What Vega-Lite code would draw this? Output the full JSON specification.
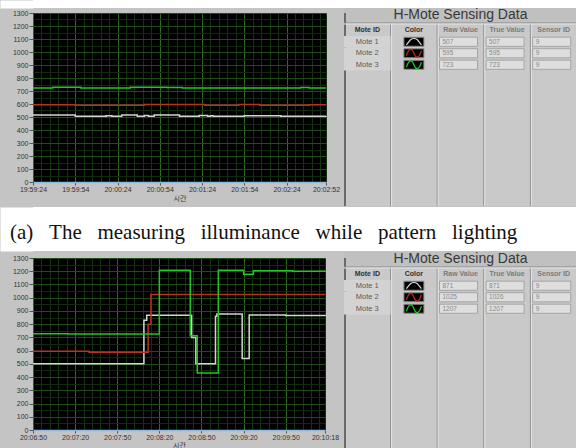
{
  "$schema": "https://vega.github.io/schema/vega-lite/v6.json",
  "background": "#c4c4c4",
  "padding": 0,
  "spacing": 0,
  "config": {"view": {"stroke": null}},
  "datasets": {
    "a": [
      {"t": "2024-01-01T19:59:24", "mote": "Mote 1", "v": 516},
      {"t": "2024-01-01T19:59:54", "mote": "Mote 1", "v": 505},
      {"t": "2024-01-01T20:00:16", "mote": "Mote 1", "v": 510},
      {"t": "2024-01-01T20:00:20", "mote": "Mote 1", "v": 505},
      {"t": "2024-01-01T20:00:27", "mote": "Mote 1", "v": 516},
      {"t": "2024-01-01T20:00:38", "mote": "Mote 1", "v": 505},
      {"t": "2024-01-01T20:00:43", "mote": "Mote 1", "v": 512},
      {"t": "2024-01-01T20:00:46", "mote": "Mote 1", "v": 505},
      {"t": "2024-01-01T20:00:50", "mote": "Mote 1", "v": 516},
      {"t": "2024-01-01T20:01:08", "mote": "Mote 1", "v": 505},
      {"t": "2024-01-01T20:01:22", "mote": "Mote 1", "v": 512},
      {"t": "2024-01-01T20:01:28", "mote": "Mote 1", "v": 505},
      {"t": "2024-01-01T20:01:30", "mote": "Mote 1", "v": 510},
      {"t": "2024-01-01T20:01:32", "mote": "Mote 1", "v": 505},
      {"t": "2024-01-01T20:01:54", "mote": "Mote 1", "v": 509},
      {"t": "2024-01-01T20:02:20", "mote": "Mote 1", "v": 505},
      {"t": "2024-01-01T20:02:52", "mote": "Mote 1", "v": 507},
      {"t": "2024-01-01T19:59:24", "mote": "Mote 2", "v": 595},
      {"t": "2024-01-01T19:59:54", "mote": "Mote 2", "v": 591},
      {"t": "2024-01-01T20:00:43", "mote": "Mote 2", "v": 597},
      {"t": "2024-01-01T20:01:26", "mote": "Mote 2", "v": 591},
      {"t": "2024-01-01T20:01:50", "mote": "Mote 2", "v": 597},
      {"t": "2024-01-01T20:02:05", "mote": "Mote 2", "v": 591},
      {"t": "2024-01-01T20:02:40", "mote": "Mote 2", "v": 595},
      {"t": "2024-01-01T20:02:52", "mote": "Mote 2", "v": 595},
      {"t": "2024-01-01T19:59:24", "mote": "Mote 3", "v": 723},
      {"t": "2024-01-01T19:59:38", "mote": "Mote 3", "v": 729},
      {"t": "2024-01-01T19:59:58", "mote": "Mote 3", "v": 723},
      {"t": "2024-01-01T20:00:33", "mote": "Mote 3", "v": 729},
      {"t": "2024-01-01T20:00:59", "mote": "Mote 3", "v": 726},
      {"t": "2024-01-01T20:01:10", "mote": "Mote 3", "v": 723},
      {"t": "2024-01-01T20:02:34", "mote": "Mote 3", "v": 727},
      {"t": "2024-01-01T20:02:40", "mote": "Mote 3", "v": 723},
      {"t": "2024-01-01T20:02:52", "mote": "Mote 3", "v": 723}
    ],
    "b": [
      {"t": "2024-01-01T20:06:50", "mote": "Mote 1", "v": 500},
      {"t": "2024-01-01T20:08:09", "mote": "Mote 1", "v": 830},
      {"t": "2024-01-01T20:08:11", "mote": "Mote 1", "v": 868},
      {"t": "2024-01-01T20:08:43", "mote": "Mote 1", "v": 700},
      {"t": "2024-01-01T20:08:46", "mote": "Mote 1", "v": 500},
      {"t": "2024-01-01T20:09:00", "mote": "Mote 1", "v": 860},
      {"t": "2024-01-01T20:09:01", "mote": "Mote 1", "v": 876},
      {"t": "2024-01-01T20:09:19", "mote": "Mote 1", "v": 540},
      {"t": "2024-01-01T20:09:24", "mote": "Mote 1", "v": 870},
      {"t": "2024-01-01T20:09:50", "mote": "Mote 1", "v": 866},
      {"t": "2024-01-01T20:10:18", "mote": "Mote 1", "v": 871},
      {"t": "2024-01-01T20:06:50", "mote": "Mote 2", "v": 595},
      {"t": "2024-01-01T20:07:30", "mote": "Mote 2", "v": 588},
      {"t": "2024-01-01T20:08:12", "mote": "Mote 2", "v": 800},
      {"t": "2024-01-01T20:08:14", "mote": "Mote 2", "v": 1025},
      {"t": "2024-01-01T20:10:18", "mote": "Mote 2", "v": 1025},
      {"t": "2024-01-01T20:06:50", "mote": "Mote 3", "v": 728},
      {"t": "2024-01-01T20:07:15", "mote": "Mote 3", "v": 725},
      {"t": "2024-01-01T20:08:20", "mote": "Mote 3", "v": 1207},
      {"t": "2024-01-01T20:08:42", "mote": "Mote 3", "v": 712},
      {"t": "2024-01-01T20:08:47", "mote": "Mote 3", "v": 430},
      {"t": "2024-01-01T20:09:02", "mote": "Mote 3", "v": 1207},
      {"t": "2024-01-01T20:09:20", "mote": "Mote 3", "v": 1177},
      {"t": "2024-01-01T20:09:27", "mote": "Mote 3", "v": 1203},
      {"t": "2024-01-01T20:09:55", "mote": "Mote 3", "v": 1200},
      {"t": "2024-01-01T20:10:18", "mote": "Mote 3", "v": 1207}
    ],
    "tabA": [
      {"row": "Mote 1", "Raw Value": 507, "True Value": 507, "Sensor ID": 9},
      {"row": "Mote 2", "Raw Value": 595, "True Value": 595, "Sensor ID": 9},
      {"row": "Mote 3", "Raw Value": 723, "True Value": 723, "Sensor ID": 9}
    ],
    "tabB": [
      {"row": "Mote 1", "Raw Value": 871, "True Value": 871, "Sensor ID": 9},
      {"row": "Mote 2", "Raw Value": 1025, "True Value": 1026, "Sensor ID": 9},
      {"row": "Mote 3", "Raw Value": 1207, "True Value": 1207, "Sensor ID": 9}
    ],
    "cols": [
      {"col": "Mote ID"}, {"col": "Color"}, {"col": "Raw Value"}, {"col": "True Value"}, {"col": "Sensor ID"}
    ],
    "ttl": [{"title": "H-Mote Sensing Data"}],
    "cap": [{"caption": "(a)\u00a0\u00a0\u00a0The\u00a0\u00a0\u00a0measuring\u00a0\u00a0\u00a0illuminance\u00a0\u00a0\u00a0while\u00a0\u00a0\u00a0pattern\u00a0\u00a0\u00a0lighting"}]
  },
  "vconcat": [
    {
      "width": 543, "height": 8,
      "view": {"fill": "#ffffff", "stroke": null},
      "data": {"values": [{"z": 0}]},
      "mark": {"type": "point", "opacity": 0},
      "encoding": {
        "y": {"field": "z", "type": "quantitative", "axis": {"orient": "left", "offset": 16.5, "domain": true, "domainColor": "#ffffff", "domainWidth": 33, "ticks": false, "labels": false, "grid": false, "title": null}}
      }
    },
    {
      "hconcat": [
        {
          "width": 293, "height": 169,
          "view": {"fill": "#000000", "stroke": null},
          "data": {"name": "a"},
          "mark": {"type": "line", "interpolate": "step-after", "strokeWidth": 1.5},
          "encoding": {
            "x": {
              "field": "t", "type": "temporal",
              "scale": {"domain": [{"year": 2024, "month": 1, "date": 1, "hours": 19, "minutes": 59, "seconds": 24}, {"year": 2024, "month": 1, "date": 1, "hours": 20, "minutes": 2, "seconds": 52}], "nice": false},
              "axis": {
                "values": [
                  {"year": 2024, "month": 1, "date": 1, "hours": 19, "minutes": 59, "seconds": 24},
                  {"year": 2024, "month": 1, "date": 1, "hours": 19, "minutes": 59, "seconds": 30},
                  {"year": 2024, "month": 1, "date": 1, "hours": 19, "minutes": 59, "seconds": 36},
                  {"year": 2024, "month": 1, "date": 1, "hours": 19, "minutes": 59, "seconds": 42},
                  {"year": 2024, "month": 1, "date": 1, "hours": 19, "minutes": 59, "seconds": 48},
                  {"year": 2024, "month": 1, "date": 1, "hours": 19, "minutes": 59, "seconds": 54},
                  {"year": 2024, "month": 1, "date": 1, "hours": 20, "minutes": 0, "seconds": 0},
                  {"year": 2024, "month": 1, "date": 1, "hours": 20, "minutes": 0, "seconds": 6},
                  {"year": 2024, "month": 1, "date": 1, "hours": 20, "minutes": 0, "seconds": 12},
                  {"year": 2024, "month": 1, "date": 1, "hours": 20, "minutes": 0, "seconds": 18},
                  {"year": 2024, "month": 1, "date": 1, "hours": 20, "minutes": 0, "seconds": 24},
                  {"year": 2024, "month": 1, "date": 1, "hours": 20, "minutes": 0, "seconds": 30},
                  {"year": 2024, "month": 1, "date": 1, "hours": 20, "minutes": 0, "seconds": 36},
                  {"year": 2024, "month": 1, "date": 1, "hours": 20, "minutes": 0, "seconds": 42},
                  {"year": 2024, "month": 1, "date": 1, "hours": 20, "minutes": 0, "seconds": 48},
                  {"year": 2024, "month": 1, "date": 1, "hours": 20, "minutes": 0, "seconds": 54},
                  {"year": 2024, "month": 1, "date": 1, "hours": 20, "minutes": 1, "seconds": 0},
                  {"year": 2024, "month": 1, "date": 1, "hours": 20, "minutes": 1, "seconds": 6},
                  {"year": 2024, "month": 1, "date": 1, "hours": 20, "minutes": 1, "seconds": 12},
                  {"year": 2024, "month": 1, "date": 1, "hours": 20, "minutes": 1, "seconds": 18},
                  {"year": 2024, "month": 1, "date": 1, "hours": 20, "minutes": 1, "seconds": 24},
                  {"year": 2024, "month": 1, "date": 1, "hours": 20, "minutes": 1, "seconds": 30},
                  {"year": 2024, "month": 1, "date": 1, "hours": 20, "minutes": 1, "seconds": 36},
                  {"year": 2024, "month": 1, "date": 1, "hours": 20, "minutes": 1, "seconds": 42},
                  {"year": 2024, "month": 1, "date": 1, "hours": 20, "minutes": 1, "seconds": 48},
                  {"year": 2024, "month": 1, "date": 1, "hours": 20, "minutes": 1, "seconds": 54},
                  {"year": 2024, "month": 1, "date": 1, "hours": 20, "minutes": 2, "seconds": 0},
                  {"year": 2024, "month": 1, "date": 1, "hours": 20, "minutes": 2, "seconds": 6},
                  {"year": 2024, "month": 1, "date": 1, "hours": 20, "minutes": 2, "seconds": 12},
                  {"year": 2024, "month": 1, "date": 1, "hours": 20, "minutes": 2, "seconds": 18},
                  {"year": 2024, "month": 1, "date": 1, "hours": 20, "minutes": 2, "seconds": 24},
                  {"year": 2024, "month": 1, "date": 1, "hours": 20, "minutes": 2, "seconds": 30},
                  {"year": 2024, "month": 1, "date": 1, "hours": 20, "minutes": 2, "seconds": 36},
                  {"year": 2024, "month": 1, "date": 1, "hours": 20, "minutes": 2, "seconds": 42},
                  {"year": 2024, "month": 1, "date": 1, "hours": 20, "minutes": 2, "seconds": 48},
                  {"year": 2024, "month": 1, "date": 1, "hours": 20, "minutes": 2, "seconds": 52}
                ],
                "labelExpr": "indexof(['24','54','52'], timeFormat(datum.value, '%S')) >= 0 ? timeFormat(datum.value, '%H:%M:%S') : ''",
                "labelOverlap": false, "labelFlush": false,
                "grid": true,
                "gridColor": {"condition": {"test": "indexof(['24','54'], timeFormat(datum.value, '%S')) >= 0", "value": "#2c6a1e"}, "value": "#143410"},
                "tickColor": {"condition": {"test": "indexof(['24','54','52'], timeFormat(datum.value, '%S')) >= 0", "value": "#555555"}, "value": "transparent"},
                "tickSize": 3, "labelPadding": 0,
                "labelFont": "Liberation Sans", "labelFontSize": 7, "labelColor": "#333333",
                "domain": true, "domainColor": "#8cb8e0", "domainWidth": 1.5,
                "title": "시간", "titleFont": "Noto Sans CJK KR", "titleFontSize": 7, "titleFontWeight": "normal", "titleColor": "#333333", "titlePadding": 2
              }
            },
            "y": {
              "field": "v", "type": "quantitative",
              "scale": {"domain": [0, 1300], "nice": false},
              "axis": {
                "values": [0, 50, 100, 150, 200, 250, 300, 350, 400, 450, 500, 550, 600, 650, 700, 750, 800, 850, 900, 950, 1000, 1050, 1100, 1150, 1200, 1250, 1300],
                "labelExpr": "datum.value % 100 == 0 ? format(datum.value, 'd') : ''",
                "labelOverlap": false, "labelFlush": false,
                "grid": true,
                "gridColor": {"condition": {"test": "datum.value % 100 == 0", "value": "#1f4c17"}, "value": "#11290d"},
                "tickColor": {"condition": {"test": "datum.value % 100 == 0", "value": "#555555"}, "value": "transparent"},
                "tickSize": 4, "labelPadding": 1, "domain": false,
                "labelFont": "Liberation Sans", "labelFontSize": 7, "labelColor": "#333333",
                "title": "\u00a0", "titleX": -33, "titleY": -5, "titleAngle": 0, "titleAlign": "left", "titleBaseline": "top", "titleFontSize": 7
              }
            },
            "color": {"field": "mote", "type": "nominal", "scale": {"domain": ["Mote 1", "Mote 2", "Mote 3"], "range": ["#d4d4d4", "#b83222", "#22c622"]}, "legend": null}
          }
        },
        {
          "width": 233, "height": 193,
          "view": {"fill": "#c9c9c9", "stroke": null},
          "layer": [
            {"data": {"name": "cols"}, "transform": [{"filter": "datum.col != 'Mote ID'"}], "mark": {"type": "rule", "color": "#8c8c8c", "strokeWidth": 1}, "encoding": {"x": {"field": "col", "type": "nominal", "bandPosition": 0, "scale": {"domain": ["Mote ID", "Color", "Raw Value", "True Value", "Sensor ID"], "paddingInner": 0, "paddingOuter": 0}, "axis": null}}},
            {"data": {"name": "cols"}, "transform": [{"filter": "datum.col != 'Mote ID'"}], "mark": {"type": "rule", "color": "#e4e4e4", "strokeWidth": 1, "xOffset": 1}, "encoding": {"x": {"field": "col", "type": "nominal", "bandPosition": 0, "axis": null}}},
            {"data": {"name": "ttl"}, "mark": {"type": "rect", "fill": "#c0c0c0", "yOffset": -5}, "encoding": {"y": {"datum": "title", "type": "nominal", "scale": {"domain": ["title", "header", "Mote 1", "Mote 2", "Mote 3", "f1", "f2", "f3", "f4", "f5", "f6", "f7", "f8", "f9", "f10", "f11"], "paddingInner": 0, "paddingOuter": 0.39, "align": 0}, "axis": null}}},
            {"data": {"name": "ttl"}, "mark": {"type": "rect", "fill": "#c0c0c0", "yOffset": -1.5}, "encoding": {"y": {"datum": "title", "type": "nominal", "axis": null}}},
            {"data": {"name": "cols"}, "transform": [{"filter": "datum.col == 'Mote ID'"}], "mark": {"type": "rule", "color": "#6a6a6a", "strokeWidth": 2, "xOffset": 1}, "encoding": {"x": {"field": "col", "type": "nominal", "bandPosition": 0, "axis": null}}},
            {"data": {"name": "ttl"}, "mark": {"type": "rule", "color": "#8a8a8a", "yOffset": -1.5}, "encoding": {"y": {"datum": "header", "type": "nominal", "bandPosition": 0, "axis": null}}},
            {"data": {"name": "ttl"}, "mark": {"type": "rule", "color": "#e6e6e6", "yOffset": -0.5}, "encoding": {"y": {"datum": "header", "type": "nominal", "bandPosition": 0, "axis": null}}},
            {"data": {"name": "ttl"}, "mark": {"type": "text", "font": "Liberation Sans", "fontSize": 14, "color": "#383838", "yOffset": -3.75}, "encoding": {"y": {"datum": "title", "type": "nominal", "axis": null}, "text": {"field": "title"}}},
            {"data": {"name": "cols"}, "mark": {"type": "text", "font": "Liberation Sans", "fontSize": 7, "fontWeight": "bold"}, "encoding": {"x": {"field": "col", "type": "nominal", "axis": null}, "y": {"datum": "header", "type": "nominal", "axis": null}, "text": {"field": "col"}, "color": {"condition": {"test": "datum.col == 'Mote ID' || datum.col == 'Color'", "value": "#303030"}, "value": "#7a7a7a"}}},
            {"data": {"name": "tabA"}, "mark": {"type": "rect", "fill": "#d3d3d3"}, "encoding": {"x": {"datum": "Mote ID", "type": "nominal", "axis": null}, "y": {"field": "row", "type": "nominal", "axis": null}}},
            {"data": {"name": "tabA"}, "mark": {"type": "text", "font": "Liberation Sans", "fontSize": 7.5, "color": "#5a5a5a"}, "encoding": {"x": {"datum": "Mote ID", "type": "nominal", "axis": null}, "y": {"field": "row", "type": "nominal", "axis": null}, "text": {"field": "row"}}},
            {"data": {"name": "tabA"}, "mark": {"type": "point", "shape": "M-1,-0.45H1V0.45H-1Z", "size": 400, "filled": true, "fill": "#000000", "stroke": "#8a8a8a", "strokeWidth": 1, "opacity": 1}, "encoding": {"x": {"datum": "Color", "type": "nominal", "axis": null}, "y": {"field": "row", "type": "nominal", "axis": null}}},
            {"data": {"name": "tabA"}, "mark": {"type": "point", "size": 400, "filled": false, "strokeWidth": 1.2, "opacity": 1}, "encoding": {"x": {"datum": "Color", "type": "nominal", "axis": null}, "y": {"field": "row", "type": "nominal", "axis": null}, "shape": {"field": "row", "type": "nominal", "scale": {"domain": ["Mote 1", "Mote 2", "Mote 3"], "range": ["M-0.75,0.3L-0.35,-0.2Q0,-0.45 0.35,-0.2L0.75,0.3", "M-0.75,0.25C-0.5,-0.55 -0.2,-0.55 0,0S0.5,0.55 0.75,-0.25", "M-0.75,0.25C-0.5,-0.55 -0.2,-0.55 0,0S0.5,0.55 0.75,-0.25"]}, "legend": null}, "stroke": {"field": "row", "type": "nominal", "scale": {"domain": ["Mote 1", "Mote 2", "Mote 3"], "range": ["#d8d8d8", "#c02a1e", "#22cc22"]}, "legend": null}}},
            {"data": {"name": "tabA"}, "transform": [{"fold": ["Raw Value", "True Value", "Sensor ID"], "as": ["col", "val"]}], "mark": {"type": "point", "shape": "M-1,-0.24H1V0.24H-1Z", "size": 1444, "filled": true, "fill": "#dedede", "stroke": "#9a9a9a", "strokeWidth": 0.8, "opacity": 1, "xOffset": -2}, "encoding": {"x": {"field": "col", "type": "nominal", "axis": null}, "y": {"field": "row", "type": "nominal", "axis": null}}},
            {"data": {"name": "tabA"}, "transform": [{"fold": ["Raw Value", "True Value", "Sensor ID"], "as": ["col", "val"]}], "mark": {"type": "text", "font": "Liberation Sans", "fontSize": 6.5, "color": "#8a8a8a", "align": "left", "xOffset": -2, "dx": -16}, "encoding": {"x": {"field": "col", "type": "nominal", "axis": null}, "y": {"field": "row", "type": "nominal", "axis": null}, "text": {"field": "val", "type": "nominal"}}}
          ]
        }
      ],
      "spacing": 3
    },
    {
      "width": 543, "height": 44,
      "view": {"fill": "#ffffff", "stroke": null},
      "layer": [
        {
          "data": {"name": "cap"},
          "mark": {"type": "text", "font": "Liberation Serif", "fontSize": 21, "color": "#111111", "align": "left", "baseline": "alphabetic", "dx": -294.5, "dy": 10},
          "encoding": {"text": {"field": "caption"}}
        },
        {
          "data": {"values": [{"z": 0}]},
          "mark": {"type": "point", "opacity": 0},
          "encoding": {
            "y": {"field": "z", "type": "quantitative", "axis": {"orient": "left", "offset": 16.5, "domain": true, "domainColor": "#ffffff", "domainWidth": 33, "ticks": false, "labels": false, "grid": false, "title": null}}
          }
        }
      ]
    },
    {
      "hconcat": [
        {
          "width": 292, "height": 172,
          "view": {"fill": "#000000", "stroke": null},
          "data": {"name": "b"},
          "mark": {"type": "line", "interpolate": "step-after", "strokeWidth": 1.5},
          "encoding": {
            "x": {
              "field": "t", "type": "temporal",
              "scale": {"domain": [{"year": 2024, "month": 1, "date": 1, "hours": 20, "minutes": 6, "seconds": 50}, {"year": 2024, "month": 1, "date": 1, "hours": 20, "minutes": 10, "seconds": 18}], "nice": false},
              "axis": {
                "values": [
                  {"year": 2024, "month": 1, "date": 1, "hours": 20, "minutes": 6, "seconds": 50},
                  {"year": 2024, "month": 1, "date": 1, "hours": 20, "minutes": 6, "seconds": 56},
                  {"year": 2024, "month": 1, "date": 1, "hours": 20, "minutes": 7, "seconds": 2},
                  {"year": 2024, "month": 1, "date": 1, "hours": 20, "minutes": 7, "seconds": 8},
                  {"year": 2024, "month": 1, "date": 1, "hours": 20, "minutes": 7, "seconds": 14},
                  {"year": 2024, "month": 1, "date": 1, "hours": 20, "minutes": 7, "seconds": 20},
                  {"year": 2024, "month": 1, "date": 1, "hours": 20, "minutes": 7, "seconds": 26},
                  {"year": 2024, "month": 1, "date": 1, "hours": 20, "minutes": 7, "seconds": 32},
                  {"year": 2024, "month": 1, "date": 1, "hours": 20, "minutes": 7, "seconds": 38},
                  {"year": 2024, "month": 1, "date": 1, "hours": 20, "minutes": 7, "seconds": 44},
                  {"year": 2024, "month": 1, "date": 1, "hours": 20, "minutes": 7, "seconds": 50},
                  {"year": 2024, "month": 1, "date": 1, "hours": 20, "minutes": 7, "seconds": 56},
                  {"year": 2024, "month": 1, "date": 1, "hours": 20, "minutes": 8, "seconds": 2},
                  {"year": 2024, "month": 1, "date": 1, "hours": 20, "minutes": 8, "seconds": 8},
                  {"year": 2024, "month": 1, "date": 1, "hours": 20, "minutes": 8, "seconds": 14},
                  {"year": 2024, "month": 1, "date": 1, "hours": 20, "minutes": 8, "seconds": 20},
                  {"year": 2024, "month": 1, "date": 1, "hours": 20, "minutes": 8, "seconds": 26},
                  {"year": 2024, "month": 1, "date": 1, "hours": 20, "minutes": 8, "seconds": 32},
                  {"year": 2024, "month": 1, "date": 1, "hours": 20, "minutes": 8, "seconds": 38},
                  {"year": 2024, "month": 1, "date": 1, "hours": 20, "minutes": 8, "seconds": 44},
                  {"year": 2024, "month": 1, "date": 1, "hours": 20, "minutes": 8, "seconds": 50},
                  {"year": 2024, "month": 1, "date": 1, "hours": 20, "minutes": 8, "seconds": 56},
                  {"year": 2024, "month": 1, "date": 1, "hours": 20, "minutes": 9, "seconds": 2},
                  {"year": 2024, "month": 1, "date": 1, "hours": 20, "minutes": 9, "seconds": 8},
                  {"year": 2024, "month": 1, "date": 1, "hours": 20, "minutes": 9, "seconds": 14},
                  {"year": 2024, "month": 1, "date": 1, "hours": 20, "minutes": 9, "seconds": 20},
                  {"year": 2024, "month": 1, "date": 1, "hours": 20, "minutes": 9, "seconds": 26},
                  {"year": 2024, "month": 1, "date": 1, "hours": 20, "minutes": 9, "seconds": 32},
                  {"year": 2024, "month": 1, "date": 1, "hours": 20, "minutes": 9, "seconds": 38},
                  {"year": 2024, "month": 1, "date": 1, "hours": 20, "minutes": 9, "seconds": 44},
                  {"year": 2024, "month": 1, "date": 1, "hours": 20, "minutes": 9, "seconds": 50},
                  {"year": 2024, "month": 1, "date": 1, "hours": 20, "minutes": 9, "seconds": 56},
                  {"year": 2024, "month": 1, "date": 1, "hours": 20, "minutes": 10, "seconds": 2},
                  {"year": 2024, "month": 1, "date": 1, "hours": 20, "minutes": 10, "seconds": 8},
                  {"year": 2024, "month": 1, "date": 1, "hours": 20, "minutes": 10, "seconds": 14},
                  {"year": 2024, "month": 1, "date": 1, "hours": 20, "minutes": 10, "seconds": 18}
                ],
                "labelExpr": "indexof(['50','20','18'], timeFormat(datum.value, '%S')) >= 0 ? timeFormat(datum.value, '%H:%M:%S') : ''",
                "labelOverlap": false, "labelFlush": false,
                "grid": true,
                "gridColor": {"condition": {"test": "indexof(['50','20'], timeFormat(datum.value, '%S')) >= 0", "value": "#2c6a1e"}, "value": "#143410"},
                "tickColor": {"condition": {"test": "indexof(['50','20','18'], timeFormat(datum.value, '%S')) >= 0", "value": "#555555"}, "value": "transparent"},
                "tickSize": 3, "labelPadding": 0,
                "labelFont": "Liberation Sans", "labelFontSize": 7, "labelColor": "#333333",
                "domain": true, "domainColor": "#8cb8e0", "domainWidth": 1.5,
                "title": "시간", "titleFont": "Noto Sans CJK KR", "titleFontSize": 7, "titleFontWeight": "normal", "titleColor": "#333333", "titlePadding": 1
              }
            },
            "y": {
              "field": "v", "type": "quantitative",
              "scale": {"domain": [0, 1300], "nice": false},
              "axis": {
                "values": [0, 50, 100, 150, 200, 250, 300, 350, 400, 450, 500, 550, 600, 650, 700, 750, 800, 850, 900, 950, 1000, 1050, 1100, 1150, 1200, 1250, 1300],
                "labelExpr": "datum.value % 100 == 0 ? format(datum.value, 'd') : ''",
                "labelOverlap": false, "labelFlush": false,
                "grid": true,
                "gridColor": {"condition": {"test": "datum.value % 100 == 0", "value": "#1f4c17"}, "value": "#11290d"},
                "tickColor": {"condition": {"test": "datum.value % 100 == 0", "value": "#555555"}, "value": "transparent"},
                "tickSize": 4, "labelPadding": 1, "domain": false,
                "labelFont": "Liberation Sans", "labelFontSize": 7, "labelColor": "#333333",
                "title": "\u00a0", "titleX": -33, "titleY": -6, "titleAngle": 0, "titleAlign": "left", "titleBaseline": "top", "titleFontSize": 7
              }
            },
            "color": {"field": "mote", "type": "nominal", "scale": {"domain": ["Mote 1", "Mote 2", "Mote 3"], "range": ["#d4d4d4", "#b83222", "#22c622"]}, "legend": null}
          }
        },
        {
          "width": 233, "height": 192,
          "view": {"fill": "#c9c9c9", "stroke": null},
          "layer": [
            {"data": {"name": "cols"}, "transform": [{"filter": "datum.col != 'Mote ID'"}], "mark": {"type": "rule", "color": "#8c8c8c", "strokeWidth": 1}, "encoding": {"x": {"field": "col", "type": "nominal", "bandPosition": 0, "scale": {"domain": ["Mote ID", "Color", "Raw Value", "True Value", "Sensor ID"], "paddingInner": 0, "paddingOuter": 0}, "axis": null}}},
            {"data": {"name": "cols"}, "transform": [{"filter": "datum.col != 'Mote ID'"}], "mark": {"type": "rule", "color": "#e4e4e4", "strokeWidth": 1, "xOffset": 1}, "encoding": {"x": {"field": "col", "type": "nominal", "bandPosition": 0, "axis": null}}},
            {"data": {"name": "ttl"}, "mark": {"type": "rect", "fill": "#c0c0c0", "yOffset": -6}, "encoding": {"y": {"datum": "title", "type": "nominal", "scale": {"domain": ["title", "header", "Mote 1", "Mote 2", "Mote 3", "f1", "f2", "f3", "f4", "f5", "f6", "f7", "f8", "f9", "f10", "f11"], "paddingInner": 0, "paddingOuter": 0.35, "align": 0}, "axis": null}}},
            {"data": {"name": "ttl"}, "mark": {"type": "rect", "fill": "#c0c0c0", "yOffset": -2.5}, "encoding": {"y": {"datum": "title", "type": "nominal", "axis": null}}},
            {"data": {"name": "cols"}, "transform": [{"filter": "datum.col == 'Mote ID'"}], "mark": {"type": "rule", "color": "#6a6a6a", "strokeWidth": 2, "xOffset": 1}, "encoding": {"x": {"field": "col", "type": "nominal", "bandPosition": 0, "axis": null}}},
            {"data": {"name": "ttl"}, "mark": {"type": "rule", "color": "#8a8a8a", "yOffset": -2.5}, "encoding": {"y": {"datum": "header", "type": "nominal", "bandPosition": 0, "axis": null}}},
            {"data": {"name": "ttl"}, "mark": {"type": "rule", "color": "#e6e6e6", "yOffset": -1.5}, "encoding": {"y": {"datum": "header", "type": "nominal", "bandPosition": 0, "axis": null}}},
            {"data": {"name": "ttl"}, "mark": {"type": "text", "font": "Liberation Sans", "fontSize": 14, "color": "#383838", "yOffset": -4.75}, "encoding": {"y": {"datum": "title", "type": "nominal", "axis": null}, "text": {"field": "title"}}},
            {"data": {"name": "cols"}, "mark": {"type": "text", "font": "Liberation Sans", "fontSize": 7, "fontWeight": "bold", "yOffset": -1}, "encoding": {"x": {"field": "col", "type": "nominal", "axis": null}, "y": {"datum": "header", "type": "nominal", "axis": null}, "text": {"field": "col"}, "color": {"condition": {"test": "datum.col == 'Mote ID' || datum.col == 'Color'", "value": "#303030"}, "value": "#7a7a7a"}}},
            {"data": {"name": "tabB"}, "mark": {"type": "rect", "fill": "#d3d3d3", "yOffset": -1}, "encoding": {"x": {"datum": "Mote ID", "type": "nominal", "axis": null}, "y": {"field": "row", "type": "nominal", "axis": null}}},
            {"data": {"name": "tabB"}, "mark": {"type": "text", "font": "Liberation Sans", "fontSize": 7.5, "color": "#5a5a5a", "yOffset": -1}, "encoding": {"x": {"datum": "Mote ID", "type": "nominal", "axis": null}, "y": {"field": "row", "type": "nominal", "axis": null}, "text": {"field": "row"}}},
            {"data": {"name": "tabB"}, "mark": {"type": "point", "shape": "M-1,-0.45H1V0.45H-1Z", "size": 400, "filled": true, "fill": "#000000", "stroke": "#8a8a8a", "strokeWidth": 1, "opacity": 1, "yOffset": -1}, "encoding": {"x": {"datum": "Color", "type": "nominal", "axis": null}, "y": {"field": "row", "type": "nominal", "axis": null}}},
            {"data": {"name": "tabB"}, "mark": {"type": "point", "size": 400, "filled": false, "strokeWidth": 1.2, "opacity": 1, "yOffset": -1}, "encoding": {"x": {"datum": "Color", "type": "nominal", "axis": null}, "y": {"field": "row", "type": "nominal", "axis": null}, "shape": {"field": "row", "type": "nominal", "scale": {"domain": ["Mote 1", "Mote 2", "Mote 3"], "range": ["M-0.75,0.3L-0.35,-0.2Q0,-0.45 0.35,-0.2L0.75,0.3", "M-0.75,0.25C-0.5,-0.55 -0.2,-0.55 0,0S0.5,0.55 0.75,-0.25", "M-0.75,0.25C-0.5,-0.55 -0.2,-0.55 0,0S0.5,0.55 0.75,-0.25"]}, "legend": null}, "stroke": {"field": "row", "type": "nominal", "scale": {"domain": ["Mote 1", "Mote 2", "Mote 3"], "range": ["#d8d8d8", "#c02a1e", "#22cc22"]}, "legend": null}}},
            {"data": {"name": "tabB"}, "transform": [{"fold": ["Raw Value", "True Value", "Sensor ID"], "as": ["col", "val"]}], "mark": {"type": "point", "shape": "M-1,-0.24H1V0.24H-1Z", "size": 1444, "filled": true, "fill": "#dedede", "stroke": "#9a9a9a", "strokeWidth": 0.8, "opacity": 1, "xOffset": -2, "yOffset": -1}, "encoding": {"x": {"field": "col", "type": "nominal", "axis": null}, "y": {"field": "row", "type": "nominal", "axis": null}}},
            {"data": {"name": "tabB"}, "transform": [{"fold": ["Raw Value", "True Value", "Sensor ID"], "as": ["col", "val"]}], "mark": {"type": "text", "font": "Liberation Sans", "fontSize": 6.5, "color": "#8a8a8a", "align": "left", "xOffset": -2, "dx": -16, "yOffset": -1}, "encoding": {"x": {"field": "col", "type": "nominal", "axis": null}, "y": {"field": "row", "type": "nominal", "axis": null}, "text": {"field": "val", "type": "nominal"}}}
          ]
        }
      ],
      "spacing": 4
    }
  ]
}
